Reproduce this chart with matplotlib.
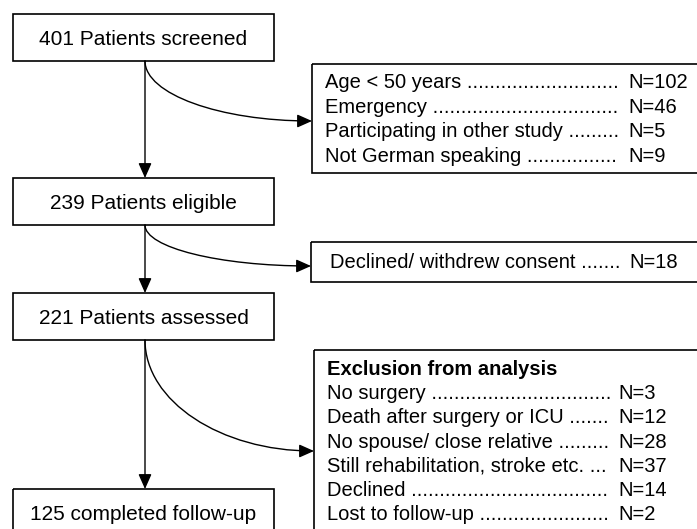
import matplotlib
matplotlib.use("Agg")
import matplotlib.pyplot as plt
from matplotlib.patches import Rectangle, FancyArrowPatch
from matplotlib.path import Path

plt.rcParams["font.family"] = ["Liberation Sans", "DejaVu Sans"]

# flow chart content
main_labels = ["401 Patients screened", "239 Patients eligible",
               "221 Patients assessed", "125 completed follow-up"]

excl1_reasons = ["Age < 50 years", "Emergency",
                 "Participating in other study", "Not German speaking"]
excl1_counts = [102, 46, 5, 9]

excl2_reasons = ["Declined/ withdrew consent"]
excl2_counts = [18]

excl3_title = "Exclusion from analysis"
excl3_reasons = ["No surgery", "Death after surgery or ICU",
                 "No spouse/ close relative", "Still rehabilitation, stroke etc.",
                 "Declined", "Lost to follow-up"]
excl3_counts = [3, 12, 28, 37, 14, 2]

W, H = 697, 529
fig = plt.figure(figsize=(W / 100, H / 100), dpi=100)
ax = fig.add_axes([0, 0, 1, 1])
ax.set_xlim(0, W)
ax.set_ylim(H, 0)
ax.axis("off")

LW_BOX = 1.2
LW_ARROW = 1.0
FS_MAIN = 15
FS_SIDE = 14.5

# main column boxes (x0, y0, x1, y1) in pixels
main_boxes = [(13, 14, 274, 61), (13, 178, 274, 225),
              (13, 293, 274, 340), (13, 489, 274, 536)]
for (x0, y0, x1, y1), label in zip(main_boxes, main_labels):
    ax.add_patch(Rectangle((x0, y0), x1 - x0, y1 - y0, fill=False,
                           ec="black", lw=LW_BOX))
    ax.text((x0 + x1) / 2, (y0 + y1) / 2 + 7.5, label, ha="center",
            va="baseline", fontsize=FS_MAIN)

# side boxes
side_boxes = [(312, 64, 700, 173), (311, 242, 700, 282), (314, 350, 700, 540)]
for (x0, y0, x1, y1) in side_boxes:
    ax.add_patch(Rectangle((x0, y0), x1 - x0, y1 - y0, fill=False,
                           ec="black", lw=LW_BOX))

fig.canvas.draw()
renderer = fig.canvas.get_renderer()


def leader_line(x, y, reason, count, n_x, fs=FS_SIDE):
    # text with dot leaders filling up to the N column
    t = ax.text(x, y, reason + " ", ha="left", va="baseline", fontsize=fs)
    base = t.get_window_extent(renderer).x1
    t.set_text(reason + " ....")
    dot_w = (t.get_window_extent(renderer).x1 - base) / 4
    n_dots = max(int((n_x - 6 - base) / dot_w), 3)
    t.set_text(reason + " " + "." * n_dots)
    ax.text(n_x, y, f"N={count}", ha="left", va="baseline", fontsize=fs)


for i, (r, c) in enumerate(zip(excl1_reasons, excl1_counts)):
    leader_line(325, 88 + i * 24.7, r, c, 628)

for i, (r, c) in enumerate(zip(excl2_reasons, excl2_counts)):
    leader_line(330, 268, r, c, 629)

ax.text(327, 375, excl3_title, ha="left", va="baseline", fontsize=FS_SIDE,
        fontweight="bold")
for i, (r, c) in enumerate(zip(excl3_reasons, excl3_counts)):
    leader_line(327, 399 + i * 24.3, r, c, 618)

# arrows
AX = 145
arrow_kw = dict(arrowstyle="-|>,head_length=0.45,head_width=0.2",
                mutation_scale=20, color="black", lw=LW_ARROW)

for (b_top, b_next) in zip(main_boxes[:-1], main_boxes[1:]):
    ax.add_patch(FancyArrowPatch((AX, b_top[3]), (AX, b_next[1]),
                                 shrinkA=0, shrinkB=0, **arrow_kw))

# quarter-ellipse bends towards the exclusion boxes
K = 0.5523
targets = [(312, 121), (311, 266), (314, 451)]
for b, (tx, ty) in zip(main_boxes[:-1], targets):
    sy = b[3]
    a, bb = tx - AX, ty - sy
    path = Path([(AX, sy), (AX, sy + K * bb), (tx - K * a, ty), (tx, ty)],
                [Path.MOVETO, Path.CURVE4, Path.CURVE4, Path.CURVE4])
    ax.add_patch(FancyArrowPatch(path=path, **arrow_kw))

fig.savefig("out.png", dpi=100)
